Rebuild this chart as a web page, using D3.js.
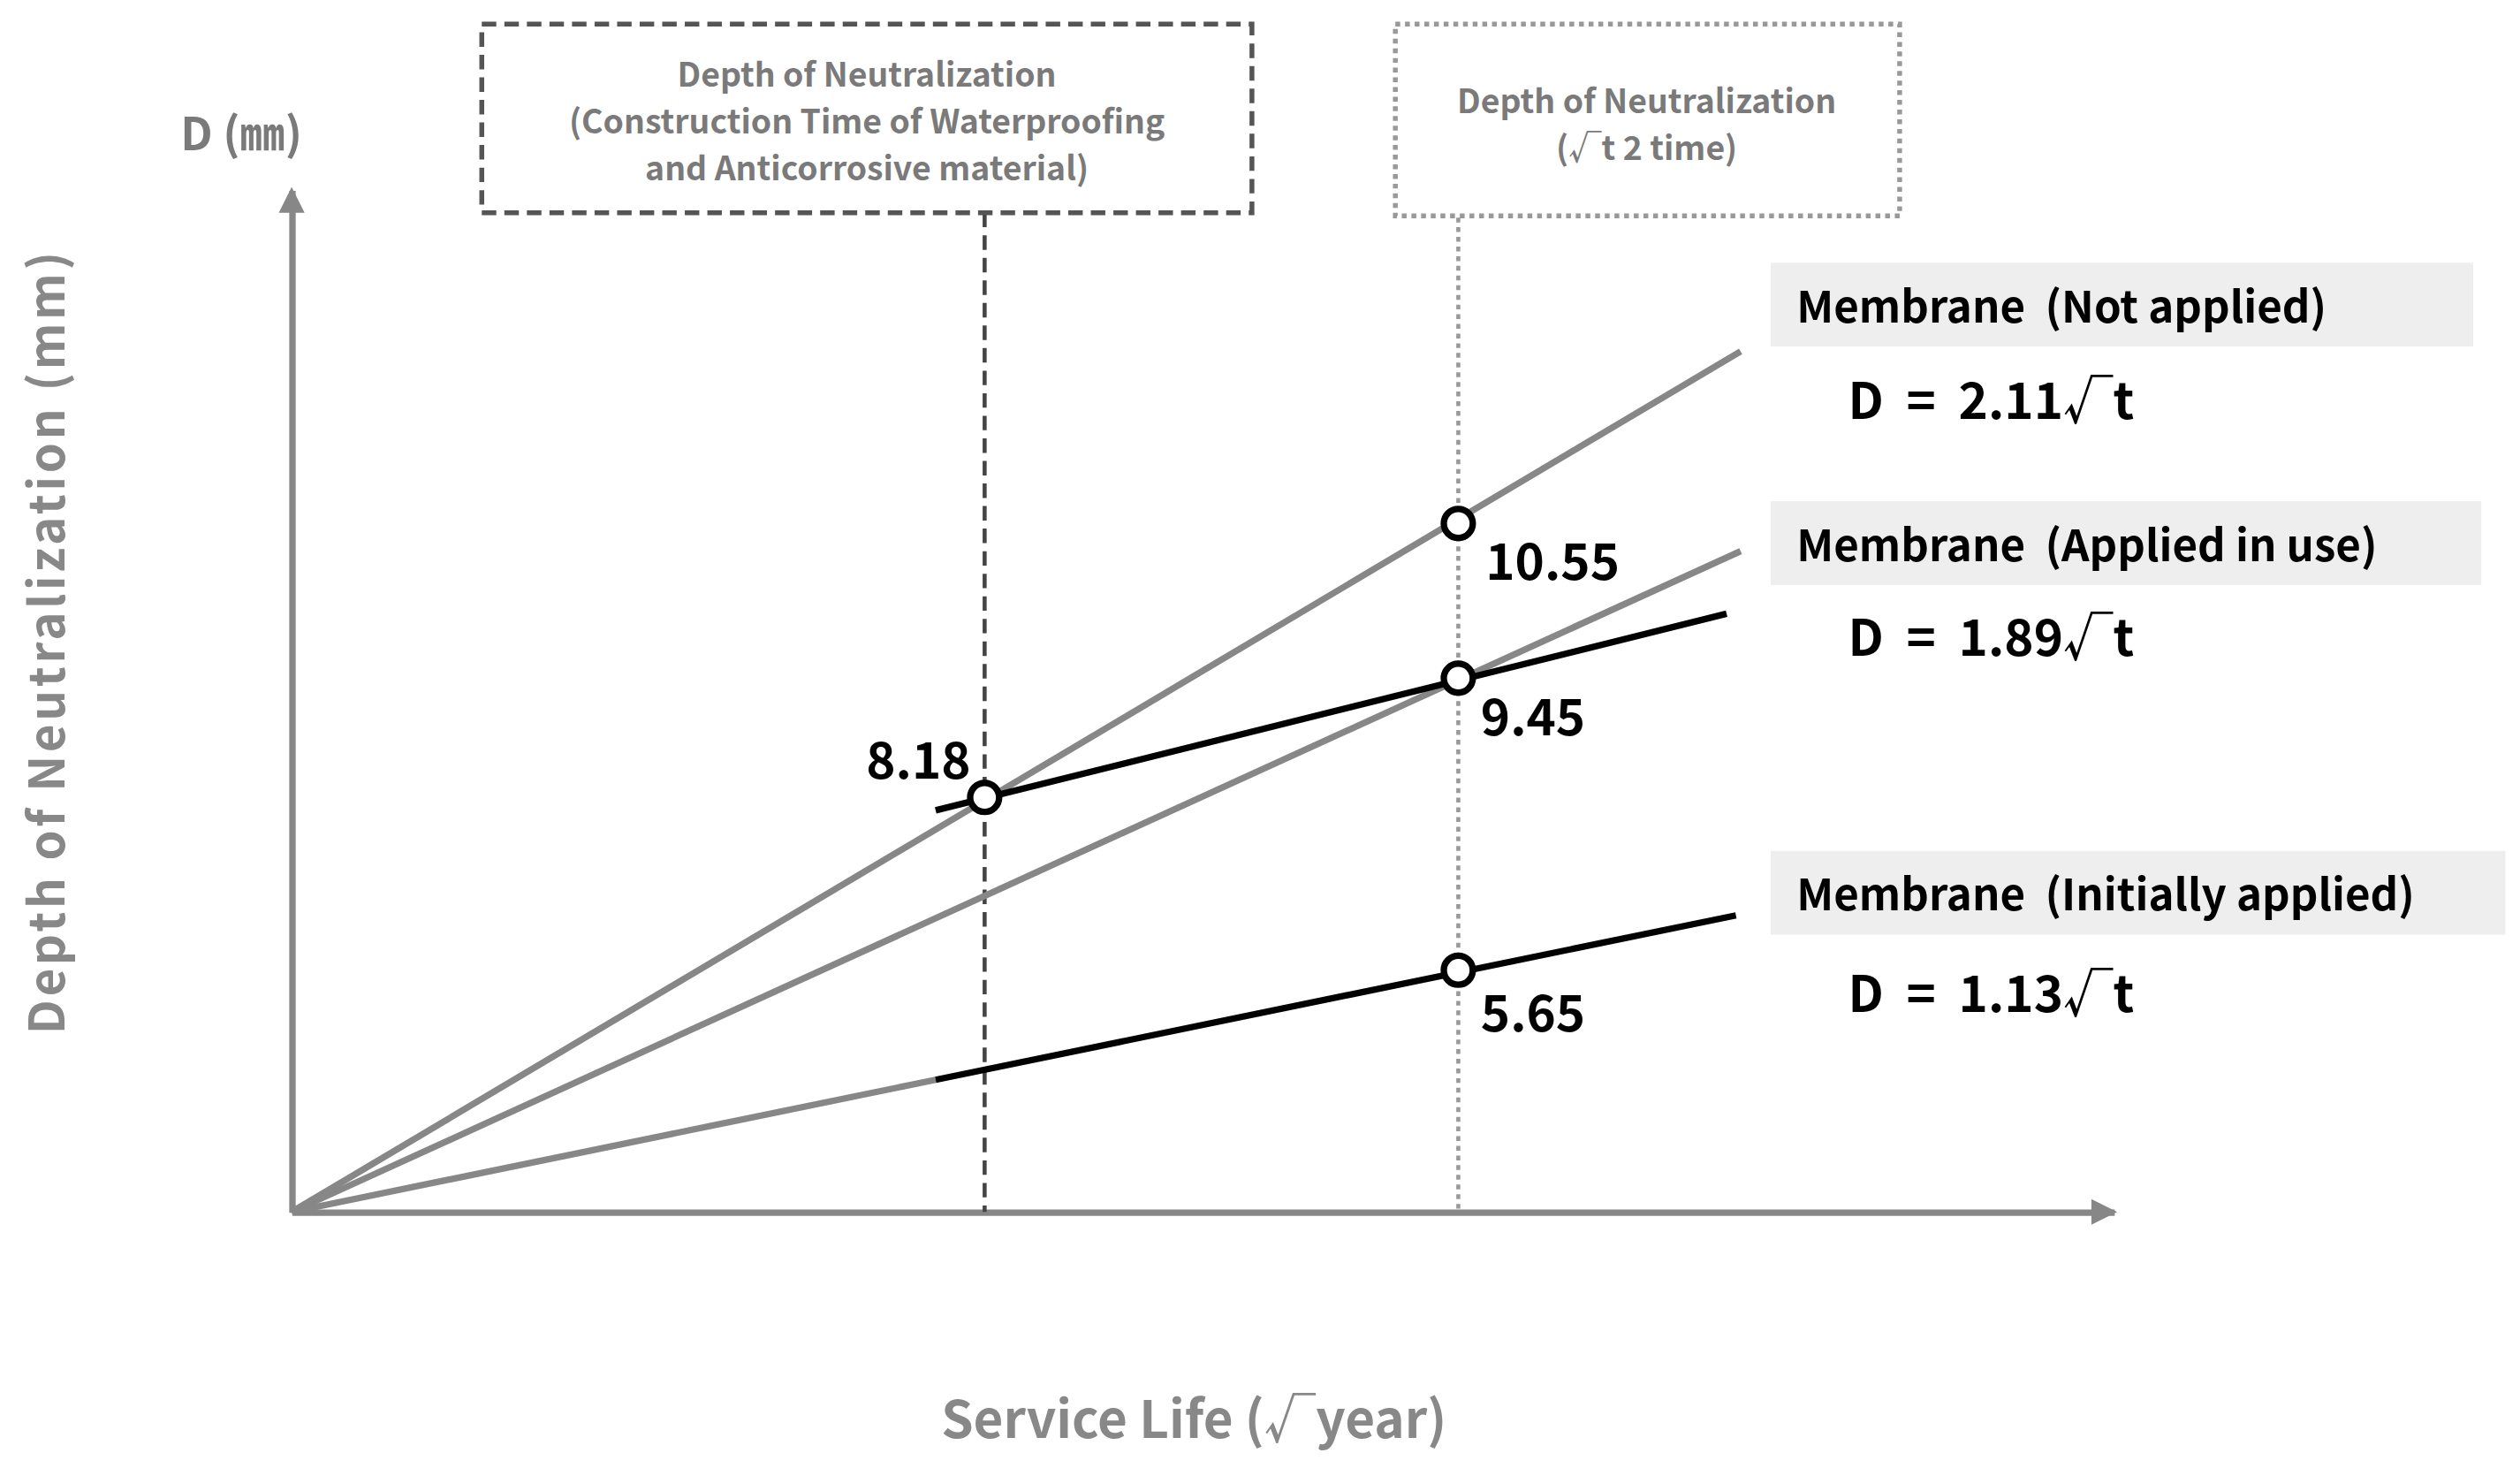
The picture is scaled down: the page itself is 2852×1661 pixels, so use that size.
<!DOCTYPE html>
<html><head><meta charset="utf-8">
<script src="https://cdn.jsdelivr.net/npm/d3@7"></script>
<style>html,body{margin:0;padding:0;background:#fff}svg{display:block}</style>
</head><body>
<svg id="c" width="2852" height="1661" viewBox="0 0 1564 910.9"></svg>
<script>
// Schematic data (sqrt-year units on x, chart units on y as drawn)
const seriesNames = ["Membrane (Not applied)", "Membrane (Applied in use)", "Membrane (Initially applied)"];
const equations = ["D  =  2.11\u221At", "D  =  1.89\u221At", "D  =  1.13\u221At"];
const grayLines = [
  [[0,0],[6.21,13.35]],
  [[0,0],[6.21,10.25]],
  [[0,0],[2.76,2.05]]
];
const blackLines = [
  [[2.76,6.23],[6.15,9.28]],
  [[2.76,2.05],[6.19,4.6]]
];
const pointsX = [2.97, 5, 5, 5];
const pointsY = [6.43, 10.68, 8.28, 3.75];
const pointLabels = ["8.18", "10.55", "9.45", "5.65"];
const constructionX = 2.97, doubleX = 5;

const svg = d3.select("#c");
const font = "'Noto Sans CJK KR','Noto Sans',sans-serif";
const x = d3.scaleLinear().domain([0, 7.81]).range([181, 1312]);
const y = d3.scaleLinear().domain([0, 15.85]).range([752, 118]);
const gray = "#878787";

const gx = svg.append("g").attr("transform", `translate(0,${y(0)})`)
  .call(d3.axisBottom(x).ticks(0).tickSizeOuter(0));
const gy = svg.append("g").attr("transform", `translate(${x(0)},0)`)
  .call(d3.axisLeft(y).ticks(0).tickSizeOuter(0));
[gx, gy].forEach(g => g.select(".domain").attr("stroke", gray).attr("stroke-width", 4));
svg.append("path").attr("d", `M${x(7.81)+2},${y(0)} l-16,-8 v16 z`).attr("fill", gray);
svg.append("path").attr("d", `M${x(0)},${y(15.85)-2} l-8,16 h16 z`).attr("fill", gray);

svg.append("line").attr("x1", x(constructionX)).attr("x2", x(constructionX)).attr("y1", 132).attr("y2", y(0))
  .attr("stroke", "#444").attr("stroke-width", 2.5).attr("stroke-dasharray", "9,5");
svg.append("line").attr("x1", x(doubleX)).attr("x2", x(doubleX)).attr("y1", 135).attr("y2", y(0))
  .attr("stroke", "#999").attr("stroke-width", 2.5).attr("stroke-dasharray", "3,3");

const line = d3.line().x(d => x(d[0])).y(d => y(d[1]));
grayLines.forEach(l => svg.append("path").attr("d", line(l)).attr("stroke", gray).attr("stroke-width", 4).attr("fill", "none"));
blackLines.forEach(l => svg.append("path").attr("d", line(l)).attr("stroke", "#000").attr("stroke-width", 4).attr("fill", "none"));

pointsX.forEach((px, i) => svg.append("circle").attr("cx", x(px)).attr("cy", y(pointsY[i])).attr("r", 9)
  .attr("fill", "#fff").attr("stroke", "#000").attr("stroke-width", 4));
const lblPos = [[570, 483, "middle"], [922, 360, "start"], [919, 456, "start"], [919, 640, "start"]];
pointLabels.forEach((t, i) => svg.append("text").attr("x", lblPos[i][0]).attr("y", lblPos[i][1])
  .attr("text-anchor", lblPos[i][2]).attr("font-family", font).attr("font-weight", "bold")
  .attr("font-size", 31).attr("fill", "#000").text(t));

const boxes = [[1099,163,436,52,260],[1099,311,441,52,407],[1099,528,456,52,628]];
seriesNames.forEach((n, i) => {
  const b = boxes[i];
  svg.append("rect").attr("x", b[0]).attr("y", b[1]).attr("width", b[2]).attr("height", b[3]).attr("fill", "#eeeeee");
  svg.append("text").attr("x", b[0] + 16).attr("y", b[1] + 37).attr("font-family", font).attr("font-weight", "bold")
    .attr("font-size", 27).attr("fill", "#000").attr("xml:space", "preserve").text(n.replace(" (", "  ("));
  svg.append("text").attr("x", 1147).attr("y", b[4]).attr("font-family", font).attr("font-weight", "bold")
    .attr("font-size", 31).attr("fill", "#000").attr("xml:space", "preserve").text(equations[i]);
});

svg.append("rect").attr("x", 299).attr("y", 15).attr("width", 478).attr("height", 117)
  .attr("fill", "none").attr("stroke", "#555").attr("stroke-width", 3).attr("stroke-dasharray", "9,5");
["Depth of Neutralization", "(Construction Time of Waterproofing", "and Anticorrosive material)"].forEach((t, i) =>
  svg.append("text").attr("x", 538).attr("y", 54 + i * 29).attr("text-anchor", "middle").attr("font-family", font)
    .attr("font-weight", "bold").attr("font-size", 20.5).attr("fill", "#7a7a7a").text(t));
svg.append("rect").attr("x", 866).attr("y", 15).attr("width", 313).attr("height", 119)
  .attr("fill", "none").attr("stroke", "#999").attr("stroke-width", 3).attr("stroke-dasharray", "3,3");
["Depth of Neutralization", "(\u221At 2 time)"].forEach((t, i) =>
  svg.append("text").attr("x", 1022).attr("y", 70 + i * 29).attr("text-anchor", "middle").attr("font-family", font)
    .attr("font-weight", "bold").attr("font-size", 20.5).attr("fill", "#7a7a7a").text(t));

svg.append("text").attr("x", 112).attr("y", 93).attr("font-family", font).attr("font-weight", "bold")
  .attr("font-size", 28).attr("fill", "#7a7a7a").text("D (\u339C)");
svg.append("text").attr("transform", "translate(40,398) rotate(-90)").attr("text-anchor", "middle")
  .attr("font-family", font).attr("font-weight", "bold").attr("font-size", 30).attr("letter-spacing", 2)
  .attr("fill", "#888").text("Depth of Neutralization (mm)");
svg.append("text").attr("x", 741).attr("y", 892).attr("text-anchor", "middle").attr("font-family", font)
  .attr("font-weight", "bold").attr("font-size", 32).attr("fill", "#888").text("Service Life (\u221Ayear)");
</script>
</body></html>
